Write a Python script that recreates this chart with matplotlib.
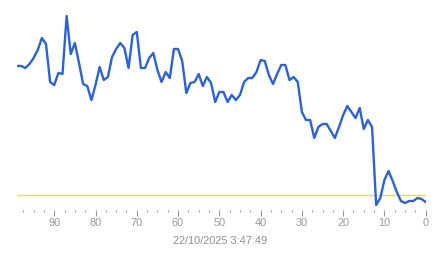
import matplotlib
matplotlib.use("Agg")
import matplotlib.pyplot as plt
import numpy as np
from matplotlib.ticker import MultipleLocator

# x positions (seconds ago), 99 -> 0
x_vals = list(range(99, -1, -1))
# series values (arbitrary units, higher = up)
y_px = [66, 66, 68, 64, 58, 50, 38, 44, 82, 85,
        73, 74, 16, 54, 43, 63, 84, 86, 100, 85,
        67, 80, 77, 57, 49, 43, 48, 68, 35, 32,
        68, 68, 58, 53, 70, 82, 72, 78, 49, 49,
        61, 93, 83, 82, 74, 86, 77, 83, 102, 92,
        92, 102, 95, 100, 95, 82, 78, 78, 72, 60,
        61, 75, 84, 74, 65, 65, 80, 77, 82, 112,
        120, 120, 138, 127, 124, 124, 131, 138, 127, 115,
        106, 112, 118, 108, 129, 120, 127, 205, 198, 180,
        171, 181, 192, 201, 203, 201, 201, 198, 199, 202]
values = [215 - v for v in y_px]
threshold = 20
tick_values = [90, 80, 70, 60, 50, 40, 30, 20, 10, 0]
timestamp = "22/10/2025 3:47:49"

W, H = 443, 258
fig = plt.figure(figsize=(W / 100, H / 100), dpi=100)
left_px, right_px = 17.1, 425.7
top_px, bot_px = 10, 210
ax = fig.add_axes([left_px / W, 1 - bot_px / H, (right_px - left_px) / W, (bot_px - top_px) / H])
ax.set_xlim(99, 0)
ax.set_ylim(215 - bot_px, 215 - top_px)

ax.axhline(threshold, color="#ead46c", lw=1.0, zorder=1)
ax.plot(x_vals, values, color="#2b61d9", lw=1.7, zorder=2, solid_joinstyle="round")

for s in ax.spines.values():
    s.set_visible(False)
ax.set_yticks([])
ax.set_xticks(tick_values)
ax.xaxis.set_minor_locator(MultipleLocator(2.5))
ax.tick_params(axis="x", which="major", length=4, width=0.8, color="#9a9a9a",
               labelcolor="#999999", labelsize=7.9, pad=2)
ax.tick_params(axis="x", which="minor", length=1.5, width=0.8, color="#9a9a9a")
for lab in ax.get_xticklabels():
    lab.set_fontfamily("Liberation Sans")

fig.text(219.7 / W, 1 - 240.7 / H, timestamp, ha="center", va="center",
         color="#8f8f8f", fontsize=7.9, family="Liberation Sans")

fig.savefig("out.png", dpi=100)
